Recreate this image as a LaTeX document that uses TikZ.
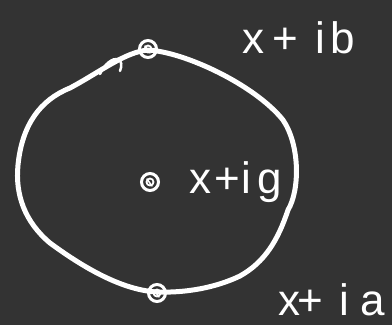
\documentclass[tikz,border=0pt]{standalone}
\usepackage{fontspec}
\setmainfont{Liberation Sans}
\definecolor{bg}{HTML}{333333}
\begin{document}
\begin{tikzpicture}[x=1pt,y=-1pt,
  stroke/.style={draw=white, line width=5pt, line cap=round, line join=round},
  dotpt/.style={circle, draw=white, line width=3pt, minimum size=17pt, inner sep=0pt},
  lab/.style={text=white, font=\fontsize{44}{44}\selectfont, anchor=base west, inner sep=0pt}]
\fill[bg] (0,0) rectangle (392,325);
\useasboundingbox (0,0) rectangle (392,325);
\draw[stroke] (148,50) .. controls (185,52) and (255,85) .. (283,120)
  .. controls (300,145) and (300,190) .. (288,210)
  .. controls (278,240) and (265,262) .. (240,276)
  .. controls (215,288) and (185,293) .. (157,292)
  .. controls (120,290) and (80,265) .. (50,243)
  .. controls (25,222) and (15,195) .. (18,165)
  .. controls (22,125) and (40,100) .. (70,88)
  .. controls (100,72) and (125,52) .. (148,50) -- cycle;
\draw[white, line width=2.5pt, line cap=round] (100,74) .. controls (105,63) and (113,58) .. (118,59) .. controls (122,61) and (122,66) .. (120,71);
\node[dotpt] (b) at (148,49) {};
\node[dotpt] (g) at (150,182) {};
\node[dotpt] (a) at (157,293) {};
\foreach \n in {b,g,a} {
  \draw[white, line width=1.8pt] (\n.center) circle (3.5pt);
  \draw[white, line width=1.5pt, line cap=round] ([shift={(-3pt,3pt)}]\n.center) -- ([shift={(2pt,-4pt)}]\n.center);
}
\node[lab] (lb) at (242,53) {x\hspace{8.4pt}+\hspace{17pt}i\hspace{5.5pt}b};
\node[lab] (lg) at (189,193) {x\hspace{3pt}+\hspace{1.5pt}i\hspace{6pt}g};
\node[lab] (la) at (278,315) {x\hspace{-2.6pt}+\hspace{16pt}i\hspace{11.6pt}a};
\end{tikzpicture}
\end{document}
